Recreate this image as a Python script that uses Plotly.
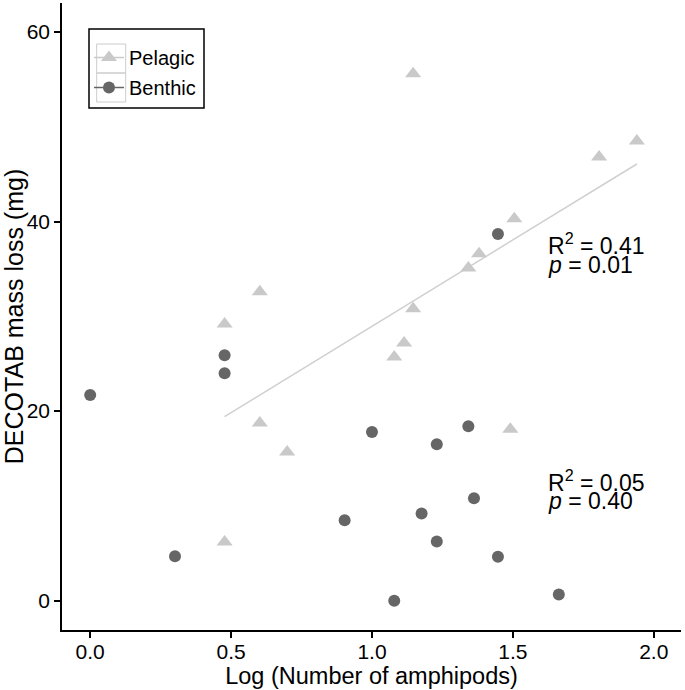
import numpy as np
import plotly.graph_objects as go

# Pelagic (triangles)
pel_x = [1.146, 1.940, 1.806, 1.505, 1.380, 1.342, 0.602, 1.146, 0.477, 1.114, 1.079, 0.602, 1.491, 0.699, 0.477]
pel_y = [55.6, 48.5, 46.8, 40.3, 36.6, 35.1, 32.6, 30.8, 29.2, 27.2, 25.7, 18.75, 18.1, 15.7, 6.2]
# Benthic (circles)
ben_x = [0.000, 0.477, 0.477, 1.447, 1.000, 1.342, 1.230, 1.362, 1.176, 0.903, 1.230, 1.447, 0.301, 1.079, 1.663]
ben_y = [21.7, 25.9, 24.0, 38.7, 17.8, 18.4, 16.5, 10.8, 9.2, 8.5, 6.25, 4.65, 4.7, 0.0, 0.65]

x_ticks = [0.0, 0.5, 1.0, 1.5, 2.0]
x_ticklabels = ["0.0", "0.5", "1.0", "1.5", "2.0"]
y_ticks = [0, 20, 40, 60]

PEL_COL = "#c9c9c9"
BEN_COL = "#666666"
FONT = "Liberation Sans, Arial, sans-serif"

W, H = 685, 690
ML, MR, MT, MB = 62, 4, 3, 60
PW, PH = W - ML - MR, H - MT - MB


def px_x(p):
    return (p - ML) / PW


def px_y(p):
    return 1 - (p - MT) / PH


slope, intercept = np.polyfit(pel_x, pel_y, 1)
fit_x = [min(pel_x), max(pel_x)]
fit_y = [intercept + slope * v for v in fit_x]

fig = go.Figure()
fig.add_trace(go.Scatter(x=fit_x, y=fit_y, mode="lines",
                         line=dict(color="#d0d0d0", width=1.5), showlegend=False, hoverinfo="skip"))
fig.add_trace(go.Scatter(x=pel_x, y=pel_y, mode="markers", showlegend=False,
                         marker=dict(symbol="triangle-up", size=14, color=PEL_COL)))
fig.add_trace(go.Scatter(x=ben_x, y=ben_y, mode="markers", showlegend=False,
                         marker=dict(symbol="circle", size=12, color=BEN_COL)))
# legend entries
fig.add_trace(go.Scatter(x=[None], y=[None], mode="lines+markers", name="Pelagic", legendgroup="a",
                         line=dict(color=PEL_COL, width=1.5),
                         marker=dict(symbol="triangle-up", size=14, color=PEL_COL)))
fig.add_trace(go.Scatter(x=[None], y=[None], mode="lines+markers", name="Benthic", legendgroup="b",
                         line=dict(color=BEN_COL, width=1.5),
                         marker=dict(symbol="circle", size=12, color=BEN_COL)))

ann_font = dict(family=FONT, size=23, color="black")
annotations = [
    dict(x=1.618, y=37.6, text="R<sup>2</sup> = 0.41", xanchor="left", yanchor="middle"),
    dict(x=1.618, y=35.4, text="<i>p</i> = 0.01", xanchor="left", yanchor="middle"),
    dict(x=1.618, y=12.6, text="R<sup>2</sup> = 0.05", xanchor="left", yanchor="middle"),
    dict(x=1.618, y=10.5, text="<i>p</i> = 0.40", xanchor="left", yanchor="middle"),
]
for a in annotations:
    a.update(xref="x", yref="y", showarrow=False, font=ann_font)

shapes = [dict(type="rect", xref="paper", yref="paper",
               x0=px_x(89), x1=px_x(204), y0=px_y(108), y1=px_y(29),
               line=dict(color="black", width=1.5), fillcolor="white", layer="above")]
for top, bot in [(44, 73), (73, 102)]:
    shapes.append(dict(type="rect", xref="paper", yref="paper",
                       x0=px_x(96.7), x1=px_x(125.7), y0=px_y(bot), y1=px_y(top),
                       line=dict(color="#cccccc", width=1), layer="above"))

fig.update_layout(
    width=W, height=H,
    margin=dict(l=ML, r=MR, t=MT, b=MB, autoexpand=False),
    paper_bgcolor="white", plot_bgcolor="white",
    font=dict(family=FONT, size=21, color="black"),
    showlegend=True,
    legend=dict(x=px_x(89), y=px_y(38), xanchor="left", yanchor="top",
                borderwidth=0, bgcolor="rgba(0,0,0,0)",
                font=dict(family=FONT, size=20, color="black"),
                traceorder="grouped", tracegroupgap=1),
    annotations=annotations,
    shapes=shapes,
    xaxis=dict(range=[-0.1, 2.0966], tickvals=x_ticks, ticktext=x_ticklabels,
               showline=True, linecolor="black", linewidth=1.5,
               ticks="outside", ticklen=6, tickwidth=1.5, tickcolor="black",
               ticklabelstandoff=-4,
               showgrid=False, zeroline=False, automargin=False,
               title=dict(text="Log (Number of amphipods)", font=dict(family=FONT, size=23.5), standoff=1)),
    yaxis=dict(range=[-3.09, 63.06], tickvals=y_ticks,
               showline=True, linecolor="black", linewidth=1.5,
               ticks="outside", ticklen=6, tickwidth=1.5, tickcolor="black",
               showgrid=False, zeroline=False, automargin=False,
               title=dict(text="DECOTAB mass loss (mg)", font=dict(family=FONT, size=25), standoff=4)),
)

fig.write_html("out.html", config={"displayModeBar": False},
               post_script="document.body.style.margin='0';")
